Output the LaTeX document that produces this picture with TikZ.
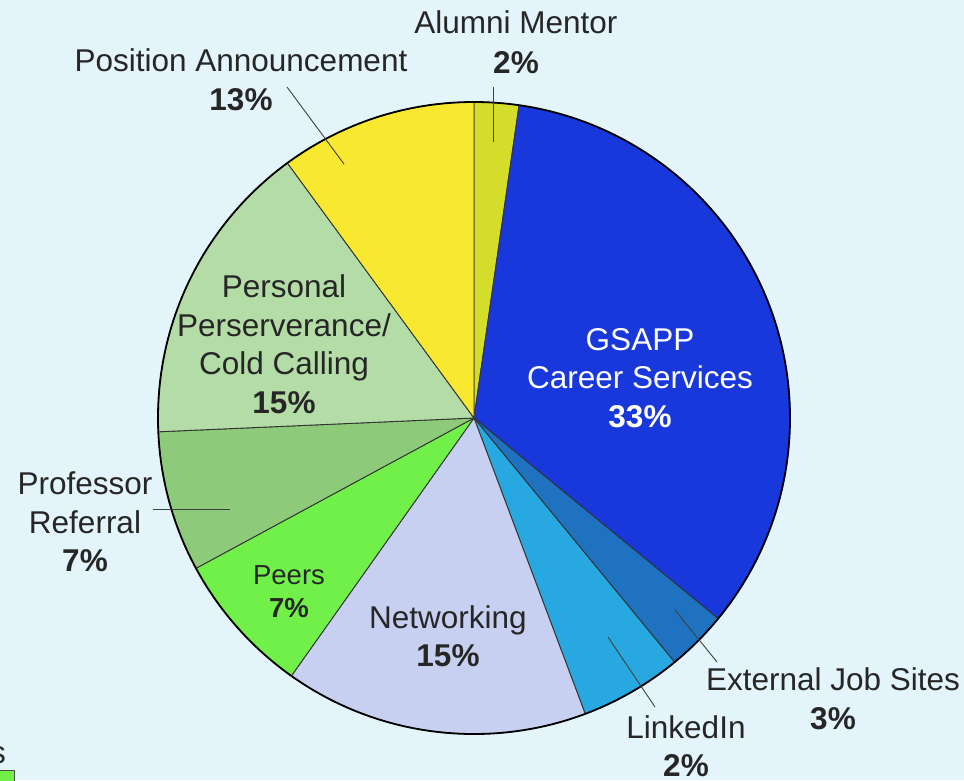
\documentclass[tikz,border=0pt]{standalone}
\usepackage{fontspec}
\setmainfont{Liberation Sans}
\begin{document}
\begin{tikzpicture}[x=1pt,y=-1pt,
  lbl/.style={align=center,inner sep=0pt,text=black!85,font=\fontsize{31.5}{38.5}\selectfont},
  wlbl/.style={lbl,text=white},
  leader/.style={draw=black!75,line width=0.9pt},
  sep/.style={draw=black!80,line width=0.9pt}]
\useasboundingbox (0,0) rectangle (964,780);
\fill[fill={rgb,255:red,228;green,244;blue,251}] (0,0) rectangle (964,780);
\coordinate (C) at (474,418);
\def\R{316}
\newcommand\pieslice[3]{%
  \filldraw[fill=#1,sep] (C) -- ([shift={(C)}]#2:\R) arc[start angle=#2,end angle=#3,radius=\R] -- cycle;}
\definecolor{calum}{RGB}{212,222,42}
\definecolor{cgsapp}{RGB}{24,56,220}
\definecolor{cext}{RGB}{31,114,191}
\definecolor{clink}{RGB}{40,168,224}
\definecolor{cnet}{RGB}{200,208,242}
\definecolor{cpeer}{RGB}{114,240,74}
\definecolor{cprof}{RGB}{141,203,123}
\definecolor{cpers}{RGB}{180,220,166}
\definecolor{cpos}{RGB}{248,232,48}
\pieslice{calum}{-90}{-81.8}
\pieslice{cgsapp}{-81.8}{39.4}
\pieslice{cext}{39.4}{50.6}
\pieslice{clink}{50.6}{69.4}
\pieslice{cnet}{69.4}{125.3}
\pieslice{cpeer}{125.3}{151.6}
\pieslice{cprof}{151.6}{177.5}
\pieslice{cpers}{177.5}{233.8}
\pieslice{cpos}{233.8}{270}
\draw[black,line width=1.8pt] (C) circle[radius=\R];
% labels
\node[lbl] (alum) at (516,42) {Alumni Mentor\\[1.5pt]\textbf{2\%}};
\node[lbl] (pos) at (241,80) {Position Announcement\\\textbf{13\%}};
\node[wlbl] (gsapp) at (640,378) {GSAPP\\Career Services\\\textbf{33\%}};
\node[lbl] (ext) at (833,699) {External Job Sites\\\textbf{3\%}};
\node[lbl] (link) at (686,746) {LinkedIn\\\textbf{2\%}};
\node[lbl] (net) at (448,636) {Networking\\\textbf{15\%}};
\node[lbl,font=\fontsize{27.5}{33}\selectfont] (peer) at (289,592) {Peers\\\textbf{7\%}};
\node[lbl] (prof) at (85,522) {Professor\\Referral\\\textbf{7\%}};
\node[lbl] (pers) at (284,344) {Personal\\Perserverance/\\Cold Calling\\\textbf{15\%}};
% leader lines
\coordinate (alumA) at (493,87);  \coordinate (alumB) at (493,142);
\coordinate (posA) at (287,87);   \coordinate (posB) at (344,164);
\coordinate (extA) at (717,662);  \coordinate (extB) at (675,610);
\coordinate (linkA) at (655,707); \coordinate (linkB) at (608,637);
\coordinate (profA) at (153,509); \coordinate (profB) at (230,509);
\draw[leader] (alumA) -- (alumB);
\draw[leader] (posA) -- (posB);
\draw[leader] (extA) -- (extB);
\draw[leader] (linkA) -- (linkB);
\draw[leader] (profA) -- (profB);
% cropped legend fragment
\node[lbl,anchor=east] (frag) at (6,755) {s};
\filldraw[fill=cpeer,draw=black!70,line width=0.8pt] (-4,770) rectangle (14,790);
\end{tikzpicture}
\end{document}
